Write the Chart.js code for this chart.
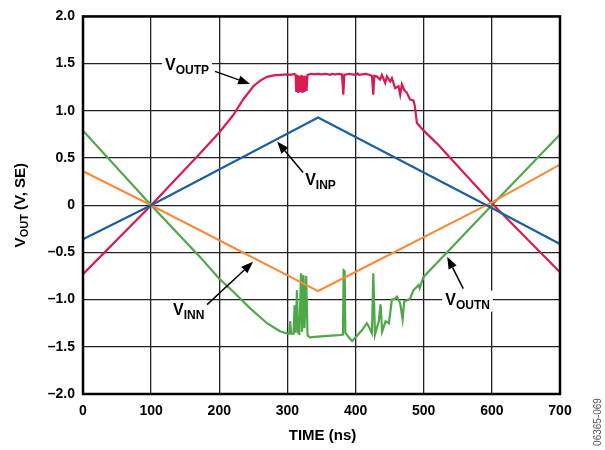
<!DOCTYPE html>
<html>
<head>
<meta charset="utf-8">
<script src="https://cdn.jsdelivr.net/npm/chart.js@4"></script>
<style>html,body{margin:0;padding:0;background:#fff}</style>
</head>
<body>
<canvas id="voutChart" width="605" height="450"></canvas>
<script>
// time axis (ns) and single-ended voltages
const vinpT = [0, 100, 345, 600, 700];
const vinpV = [-0.36, 0.0, 0.93, -0.03, -0.41];

const vinnT = [0, 100, 345, 600, 700];
const vinnV = [0.36, 0.0, -0.91, 0.03, 0.43];

const voutpT = [0, 100, 172, 200, 220, 235, 250, 260, 270, 280, 290, 300, 305, 310,
  312, 313, 314.5, 316, 317.5, 319, 320.5, 322, 323.5, 325, 326.5, 328, 329.5,
  335, 340, 345, 350, 355, 360, 363, 365, 370, 375, 380, 382, 383.5, 390, 395, 400,
  403, 405, 410, 415, 421, 424, 426, 427.5, 431, 436, 438.6, 443.5, 446, 451, 453.4,
  458, 463, 465.5, 468, 471.4, 475.3, 480, 485, 487, 490, 500, 520, 539, 600, 700];
const voutpV = [-0.73, 0.0, 0.55, 0.77, 0.95, 1.12, 1.26, 1.32, 1.36, 1.375, 1.38, 1.385, 1.38, 1.39,
  1.38, 1.2, 1.38, 1.19, 1.37, 1.2, 1.38, 1.19, 1.37, 1.2, 1.37, 1.21, 1.38,
  1.39, 1.385, 1.39, 1.385, 1.39, 1.385, 1.38, 1.39, 1.385, 1.39, 1.385, 1.17, 1.38, 1.39, 1.385, 1.38,
  1.395, 1.38, 1.385, 1.39, 1.38, 1.37, 1.17, 1.37, 1.365, 1.33, 1.38, 1.295, 1.365, 1.31, 1.345,
  1.24, 1.26, 1.17, 1.28, 1.22, 1.19, 1.12, 1.11, 1.05, 0.87, 0.79, 0.65, 0.5, 0.02, -0.71];

const voutnT = [0, 100, 172, 200, 221, 245, 270, 289, 300, 303, 304, 305.5, 309, 310.5,
  312, 314, 315.5, 317.5, 320, 321.5, 323.5, 325, 327.5, 329.5, 333, 340, 350, 360, 370,
  378, 381.5, 382.5, 384, 385, 390, 395, 401, 410, 416.5, 419, 424, 426, 428.5, 434,
  436.6, 439, 444, 449, 453.3, 458, 460.6, 465.5, 469, 471.4, 480, 485, 492.5, 494,
  499.7, 514.4, 534, 600, 700];
const voutnV = [0.79, 0.0, -0.55, -0.78, -0.92, -1.09, -1.25, -1.335, -1.36, -1.36, -1.23, -1.36, -1.36, -1.06,
  -1.35, -0.9, -1.35, -1.36, -0.72, -1.34, -0.74, -1.3, -0.75, -1.38, -1.4, -1.395, -1.39, -1.385, -1.38,
  -1.375, -1.37, -0.69, -0.7, -1.35, -1.4, -1.44, -1.39, -1.32, -1.25, -1.28, -1.355, -0.72, -1.37, -1.23,
  -1.05, -1.34, -1.23, -1.25, -1.0, -0.99, -0.97, -1.04, -1.21, -1.02, -0.99, -0.9, -0.845, -0.88,
  -0.76, -0.65, -0.5, 0.0, 0.75];

const FONT = '"Liberation Sans", Arial, sans-serif';

function pts(ts, vs) {
  return ts.map((t, i) => ({ x: t, y: vs[i] }));
}

function line(label, ts, vs, color) {
  return {
    label: label,
    data: pts(ts, vs),
    borderColor: color,
    borderWidth: 2.2,
    pointRadius: 0,
    tension: 0,
    fill: false
  };
}

// labels: [main, sub, text x, text y, arrow start x, y, arrow tip x, y] in data units
const callouts = [
  ['V', 'OUTP', 120.4, 1.43, 193.8, 1.418, 245.2, 1.284],
  ['V', 'INP', 326, 0.21, 323, 0.347, 284.9, 0.674],
  ['V', 'INN', 132.2, -1.158, 182.1, -1.053, 249.6, -0.6],
  ['V', 'OUTN', 531.6, -1.053, 558, -0.884, 534.5, -0.547]
];

function arrow(ctx, x1, y1, x2, y2) {
  const a = Math.atan2(y2 - y1, x2 - x1);
  const len = 12, hw = 4.5;
  const bx = x2 - len * Math.cos(a), by = y2 - len * Math.sin(a);
  ctx.strokeStyle = '#000';
  ctx.lineWidth = 1.5;
  ctx.beginPath();
  ctx.moveTo(x1, y1);
  ctx.lineTo(bx, by);
  ctx.stroke();
  ctx.fillStyle = '#000';
  ctx.beginPath();
  ctx.moveTo(x2, y2);
  ctx.lineTo(bx + hw * Math.sin(a), by - hw * Math.cos(a));
  ctx.lineTo(bx - hw * Math.sin(a), by + hw * Math.cos(a));
  ctx.closePath();
  ctx.fill();
}

const extras = {
  id: 'extras',
  afterDatasetsDraw(chart) {
    const ctx = chart.ctx;
    const xs = chart.scales.x, ys = chart.scales.y;
    const a = chart.chartArea;
    ctx.save();

    // frame
    ctx.strokeStyle = '#000';
    ctx.lineWidth = 2.5;
    ctx.strokeRect(a.left, a.top, a.right - a.left, a.bottom - a.top);

    // callouts
    ctx.textBaseline = 'alphabetic';
    ctx.textAlign = 'left';
    callouts.forEach(c => {
      const tx = xs.getPixelForValue(c[2]), ty = ys.getPixelForValue(c[3]);
      ctx.font = 'bold 16px ' + FONT;
      const w1 = ctx.measureText(c[0]).width;
      ctx.font = 'bold 12px ' + FONT;
      const w2 = ctx.measureText(c[1]).width;
      ctx.fillStyle = '#fff';
      ctx.fillRect(tx - 3, ty - 14, w1 + w2 + 6, 21);
      ctx.fillStyle = '#000';
      ctx.font = 'bold 16px ' + FONT;
      ctx.fillText(c[0], tx, ty);
      ctx.font = 'bold 12px ' + FONT;
      ctx.fillText(c[1], tx + w1, ty + 4);
      arrow(ctx, xs.getPixelForValue(c[4]), ys.getPixelForValue(c[5]),
        xs.getPixelForValue(c[6]), ys.getPixelForValue(c[7]));
    });

    // x axis title
    ctx.fillStyle = '#000';
    ctx.font = 'bold 15px ' + FONT;
    ctx.textAlign = 'center';
    ctx.fillText('TIME (ns)', (a.left + a.right) / 2 + 1, 440);

    // y axis title with subscript
    ctx.save();
    ctx.translate(25, (a.top + a.bottom) / 2);
    ctx.rotate(-Math.PI / 2);
    ctx.textAlign = 'left';
    ctx.font = 'bold 15px ' + FONT;
    const m1 = ctx.measureText('V').width;
    const m3 = ctx.measureText(' (V, SE)').width;
    ctx.font = 'bold 11px ' + FONT;
    const m2 = ctx.measureText('OUT').width;
    let x0 = -(m1 + m2 + m3) / 2;
    ctx.font = 'bold 15px ' + FONT;
    ctx.fillText('V', x0, 0);
    ctx.font = 'bold 11px ' + FONT;
    ctx.fillText('OUT', x0 + m1, 3);
    ctx.font = 'bold 15px ' + FONT;
    ctx.fillText(' (V, SE)', x0 + m1 + m2, 0);
    ctx.restore();

    // figure code
    ctx.save();
    ctx.translate(601, 422);
    ctx.rotate(-Math.PI / 2);
    ctx.textAlign = 'center';
    ctx.fillStyle = '#555';
    ctx.font = '10px ' + FONT;
    ctx.fillText('06365-069', 0, 0);
    ctx.restore();

    ctx.restore();
  }
};

const ctx = document.getElementById('voutChart').getContext('2d');
const voutChart = new Chart(ctx, {
  type: 'line',
  data: {
    datasets: [
      line('VINP', vinpT, vinpV, '#1a5fa0'),
      line('VINN', vinnT, vinnV, '#f98a3c'),
      line('VOUTP', voutpT, voutpV, '#d81b50'),
      line('VOUTN', voutnT, voutnV, '#4ea84a')
    ]
  },
  options: {
    responsive: false,
    animation: false,
    devicePixelRatio: 1,
    layout: { padding: { left: 0, right: 45, top: 13, bottom: 0 } },
    plugins: { legend: { display: false }, tooltip: { enabled: false } },
    scales: {
      x: {
        type: 'linear',
        min: 0,
        max: 700,
        afterFit(s) { s.height = 56; },
        ticks: { stepSize: 100, padding: 9, color: '#000', font: { family: FONT, size: 14, weight: 'bold' } },
        grid: { color: '#222', lineWidth: 1.3, drawTicks: false },
        border: { display: false }
      },
      y: {
        min: -2,
        max: 2,
        afterFit(s) { s.width = 83; },
        ticks: {
          stepSize: 0.5,
          padding: 8,
          color: '#000',
          font: { family: FONT, size: 14, weight: 'bold' },
          callback: v => v === 0 ? '0' : (v < 0 ? '\u2013' : '') + Math.abs(v).toFixed(1)
        },
        grid: { color: '#222', lineWidth: 1.3, drawTicks: false },
        border: { display: false }
      }
    }
  },
  plugins: [extras]
});
</script>
</body>
</html>
